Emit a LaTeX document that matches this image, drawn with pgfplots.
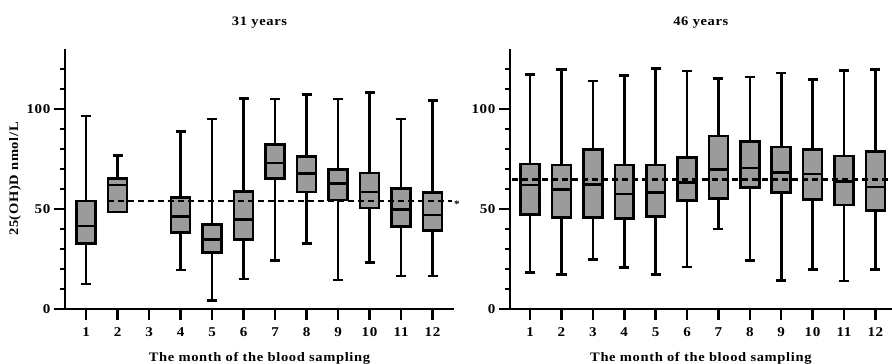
\documentclass[border=0pt]{standalone}
\usepackage{fontspec}
\setmainfont{Liberation Serif}[FakeStretch=1.12,LetterSpace=5]
\usepackage{pgfplots}
\pgfplotsset{compat=1.18}
\usepgfplotslibrary{statistics}
\definecolor{boxgray}{RGB}{155,155,155}
\newcommand{\bx}[6]{\addplot[black, fill=boxgray, line width=2.6bp,
  boxplot/draw direction=y,
  boxplot prepared={draw position=#1, lower whisker=#2, lower quartile=#3,
  median=#4, upper quartile=#5, upper whisker=#6, box extend=0.6, whisker extend=0.32}]
  coordinates {};}
\pgfplotsset{
  panel/.style={
    scale only axis, height=260bp,
    ymin=0, ymax=130,
    axis lines*=left, axis line style={-, line width=2.5bp},
    tick align=outside,
    xtick={1,...,12}, ytick={0,50,100},
    minor ytick={10,20,30,40,60,70,80,90,110,120},
    major tick length=11bp, minor tick length=5bp,
    every tick/.style={black, line width=2.5bp},
    /pgf/number format/assume math mode=true,
    ticklabel style={font=\fontsize{13.5}{15}\selectfont\bfseries},
    xticklabel style={yshift=-4bp},
    label style={font=\fontsize{13}{15}\selectfont\bfseries},
    title style={font=\fontsize{13}{15}\selectfont\bfseries, at={(axis description cs:0.5,1.077)}, anchor=center, yshift=0pt},
    xlabel style={at={(axis description cs:0.5,-0.19)}, anchor=center},
    clip=false,
  }
}
\begin{document}
\begin{tikzpicture}
\path[use as bounding box] (0,0) rectangle (892bp,364bp);
\begin{axis}[panel, width=389bp, at={(65bp,55bp)}, anchor=south west,
  xmin=0.33, xmax=12.68,
  title={31 years},
  xlabel={The month of the blood sampling},
  ylabel={25(OH)D nmol/L},
  ylabel style={at={(axis description cs:-0.1285,0.5)}, anchor=center},
  ]
\bx{1}{12.5}{32.7}{41.5}{54}{96.5}
\bx{2}{48.5}{48.5}{62}{65.3}{76.7}
\bx{4}{19.5}{38.3}{46.2}{55.7}{88.8}
\bx{5}{4.3}{28.2}{34.8}{42.3}{95}
\bx{6}{15}{34.7}{44.8}{58.8}{105.3}
\bx{7}{24.2}{65.3}{73}{82.2}{105}
\bx{8}{32.8}{58.5}{67.8}{76.2}{107.2}
\bx{9}{14.5}{54.5}{62.8}{69.7}{105}
\bx{10}{23.3}{50.5}{58.5}{68}{108.2}
\bx{11}{16.5}{41.3}{49.8}{60.2}{95}
\bx{12}{16.5}{39.2}{47}{58.2}{104.2}
\addplot[black, line width=2.6bp, dash pattern=on 6bp off 4bp] coordinates {(1.68,54) (12.62,54)};
\node[font=\fontsize{10}{11}\selectfont\bfseries] at (axis cs:12.77,52.5) {*};
\end{axis}
\begin{axis}[panel, width=381.7bp, at={(510bp,55bp)}, anchor=south west,
  xmin=0.36, xmax=12.52,
  title={46 years},
  xlabel={The month of the blood sampling},
  ]
\bx{1}{18.3}{47.1}{62}{72.5}{117.3}
\bx{2}{17.3}{45.6}{59.8}{72}{119.6}
\bx{3}{24.8}{45.6}{62.1}{79.7}{113.9}
\bx{4}{20.6}{45.1}{57.5}{72}{116.6}
\bx{5}{17.3}{46.1}{58.3}{72}{120.1}
\bx{6}{20.9}{54.3}{63.1}{75.7}{118.9}
\bx{7}{40}{55.1}{69.7}{86.4}{115.1}
\bx{8}{24.3}{60.6}{70.5}{83.8}{115.9}
\bx{9}{14.2}{58.3}{68.3}{80.9}{117.9}
\bx{10}{19.8}{54.6}{67.5}{79.7}{114.6}
\bx{11}{13.9}{51.9}{63.7}{76.4}{119.3}
\bx{12}{19.8}{49.1}{61}{78.7}{119.6}
\addplot[black, line width=2.6bp, dash pattern=on 6bp off 4bp] coordinates {(0.42,64.8) (12.5,64.8)};
\end{axis}
\end{tikzpicture}
\end{document}
